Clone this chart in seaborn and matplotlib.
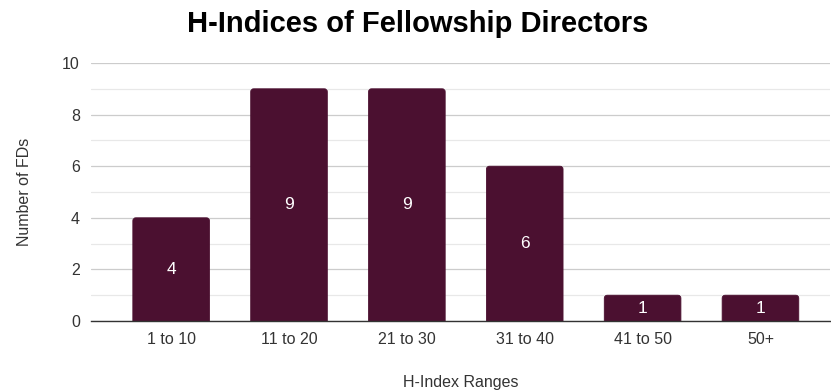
import matplotlib
matplotlib.use("Agg")
import matplotlib.pyplot as plt
from matplotlib.patches import FancyBboxPatch
import seaborn as sns
import pandas as pd

categories = ["1 to 10", "11 to 20", "21 to 30", "31 to 40", "41 to 50", "50+"]
counts = [4, 9, 9, 6, 1, 1]

df = pd.DataFrame({"range": categories, "count": counts})

sns.set_style("white")
plt.rcParams["font.family"] = ["Liberation Sans", "DejaVu Sans"]

fig = plt.figure(figsize=(8.31, 3.91), dpi=100)
ax = fig.add_axes([91 / 831, 70 / 391, 739 / 831, 258 / 391])

bar_color = "#4b1030"
sns.barplot(data=df, x="range", y="count", color=bar_color, saturation=1,
            width=0.65, ax=ax, zorder=3, edgecolor=bar_color, linewidth=0.6)

ax.set_xlim(-0.68, 5.59)
ax.set_ylim(0, 10)

# round the top corners of the bars drawn by seaborn
px_x = 739 / (5.59 + 0.68)
px_y = 258 / 10
r_px = 3.0
for p in list(ax.patches):
    x, w, h = p.get_x(), p.get_width(), p.get_height()
    rs = r_px / px_x
    fb = FancyBboxPatch((x, -0.3), w, h + 0.3,
                        boxstyle=f"round,pad=0,rounding_size={rs}",
                        mutation_aspect=(r_px / px_y) / rs,
                        facecolor=bar_color, edgecolor=bar_color, linewidth=0.6,
                        zorder=3)
    ax.add_patch(fb)
    p.set_visible(False)

ax.set_yticks([0, 2, 4, 6, 8, 10])
ax.set_yticks([1, 3, 5, 7, 9], minor=True)
ax.grid(axis="y", which="major", color="#cccccc", linewidth=0.9, zorder=0)
ax.grid(axis="y", which="minor", color="#e8e8e8", linewidth=0.9, zorder=0)
for s in ["top", "right", "left"]:
    ax.spines[s].set_visible(False)
ax.spines["bottom"].set_color("#333333")
ax.spines["bottom"].set_linewidth(1.0)
ax.spines["bottom"].set_zorder(4)
ax.tick_params(axis="both", which="both", length=0, labelsize=11.5, colors="#333333")
ax.tick_params(axis="x", pad=8)
ax.tick_params(axis="y", pad=8)

for c in ax.containers:
    ax.bar_label(c, label_type="center", color="white", fontsize=12.5)

ax.set_xlabel("H-Index Ranges", fontsize=11.5, color="#333333", labelpad=20)
ax.set_ylabel("Number of FDs", fontsize=11.5, color="#333333", labelpad=22)
fig.suptitle("H-Indices of Fellowship Directors", fontsize=21, fontweight="bold",
             color="black", x=418 / 831, y=1 - 24 / 391, va="center")

fig.savefig("out.png", dpi=100, facecolor="white")
